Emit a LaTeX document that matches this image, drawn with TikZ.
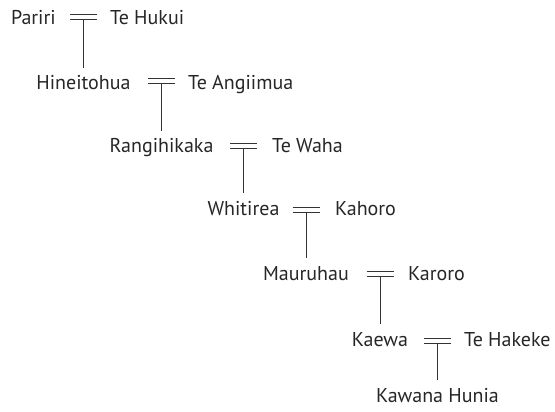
\documentclass[tikz,border=0pt]{standalone}
\usepackage{fontspec}
\setmainfont{PT Sans}
\newfontfamily\namefont{PT Sans}[Scale=1]
\begin{document}
\begin{tikzpicture}[x=1pt,y=-1pt,
  person/.style={font=\namefont\fontsize{20}{24}\selectfont, inner sep=0pt, anchor=base, text=black!85},
  spouse/.style={person, anchor=base west},
  wed/.style={minimum width=27pt, minimum height=5pt, inner sep=0pt, outer sep=0pt},
  rule/.style={line width=0.9pt, draw=black!80},
  descent/.style={rule, shorten >=8pt}]
\useasboundingbox (0,0) rectangle (555,412);
% row 1
\node[wed] (w1) at (83.5,16.5) {};
\node[person] (p1) at (33.4,25) {Pariri};
\node[spouse] (s1) at (110,25) {Te Hukui};
% row 2
\node[wed] (w2) at (161.5,80.5) {};
\node[person] (p2) at (83.5,90) {Hineitohua};
\node[spouse] (s2) at (188,90) {Te Angiimua};
% row 3
\node[wed] (w3) at (243.5,145.5) {};
\node[person] (p3) at (161.5,153) {Rangihikaka};
\node[spouse] (s3) at (272,153) {Te Waha};
% row 4
\node[wed] (w4) at (306,210) {};
\node[person] (p4) at (243.5,215) {Whitirea};
\node[spouse] (s4) at (335,215) {Kahoro};
% row 5
\node[wed] (w5) at (380,273.5) {};
\node[person] (p5) at (306,280) {Mauruhau};
\node[spouse] (s5) at (408,280) {Karoro};
% row 6
\node[wed] (w6) at (437.5,340.5) {};
\node[person] (p6) at (380,346) {Kaewa};
\node[spouse] (s6) at (464,346) {Te Hakeke};
% row 7
\node[person] (p7) at (437.5,402) {Kawana Hunia};
% marriage signs
\foreach \w in {w1,w2,w3,w4,w5,w6}{
  \draw[rule] (\w.north west) -- (\w.north east);
  \draw[rule] (\w.south west) -- (\w.south east);
}
% descent lines
\draw[descent] (w1.south) -- (w1.south |- p2.north);
\draw[descent] (w2.south) -- (w2.south |- p3.north);
\draw[descent] (w3.south) -- (w3.south |- p4.north);
\draw[descent] (w4.south) -- (w4.south |- p5.north);
\draw[descent] (w5.south) -- (w5.south |- p6.north);
\draw[descent] (w6.south) -- (w6.south |- p7.north);
\end{tikzpicture}
\end{document}
